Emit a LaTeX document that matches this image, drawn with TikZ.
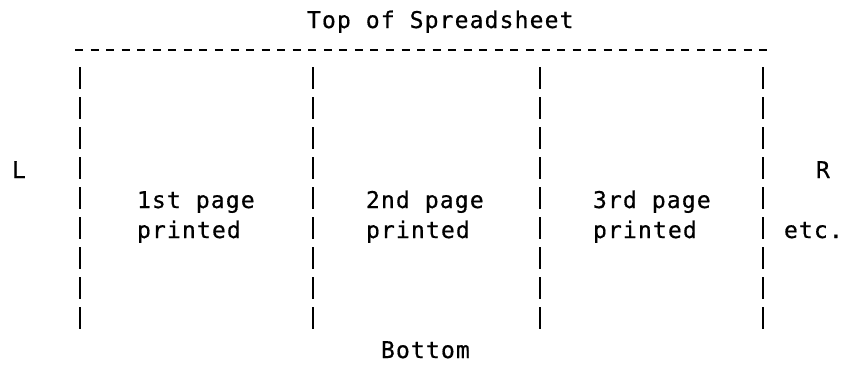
\documentclass[tikz,border=0pt]{standalone}
\usepackage{fontspec}
\newfontfamily\monofont[LetterSpace=5,FakeBold=0.6]{DejaVu Sans Mono}
\begin{document}
\begin{tikzpicture}[x=1pt,y=-1pt,
  lbl/.style={anchor=base west, inner sep=0pt, outer sep=0pt,
    font=\monofont\fontsize{23}{23}\selectfont, text=black},
  bar/.style={line width=2pt, draw=black, dash pattern=on 22pt off 8pt},
  rule/.style={line width=2.8pt, draw=black, dash pattern=on 8pt off 7.55pt}]
\useasboundingbox (0,0) rectangle (842,364);
% texts
\node[lbl] (top) at (307,28) {Top of Spreadsheet};
\node[lbl] (L) at (12,178) {L};
\node[lbl] (R) at (816,178) {R};
\node[lbl] (etc) at (784,238) {etc.};
\node[lbl] (p1a) at (137,208) {1st page};
\node[lbl] (p1b) at (137,238) {printed};
\node[lbl] (p2a) at (366,208) {2nd page};
\node[lbl] (p2b) at (366,238) {printed};
\node[lbl] (p3a) at (593,208) {3rd page};
\node[lbl] (p3b) at (593,238) {printed};
\node[lbl] (bottom) at (381,358) {Bottom};
% top dashed rule
\coordinate (rs) at (75,50);
\coordinate (re) at (767,50);
\draw[rule] (rs) -- (re);
% vertical page separators
\foreach \n/\x in {b1/80, b2/313, b3/540, b4/763} {
  \coordinate (\n t) at (\x,67);
  \coordinate (\n b) at (\x,331);
  \draw[bar] (\n t) -- (\n b);
}
\end{tikzpicture}
\end{document}
